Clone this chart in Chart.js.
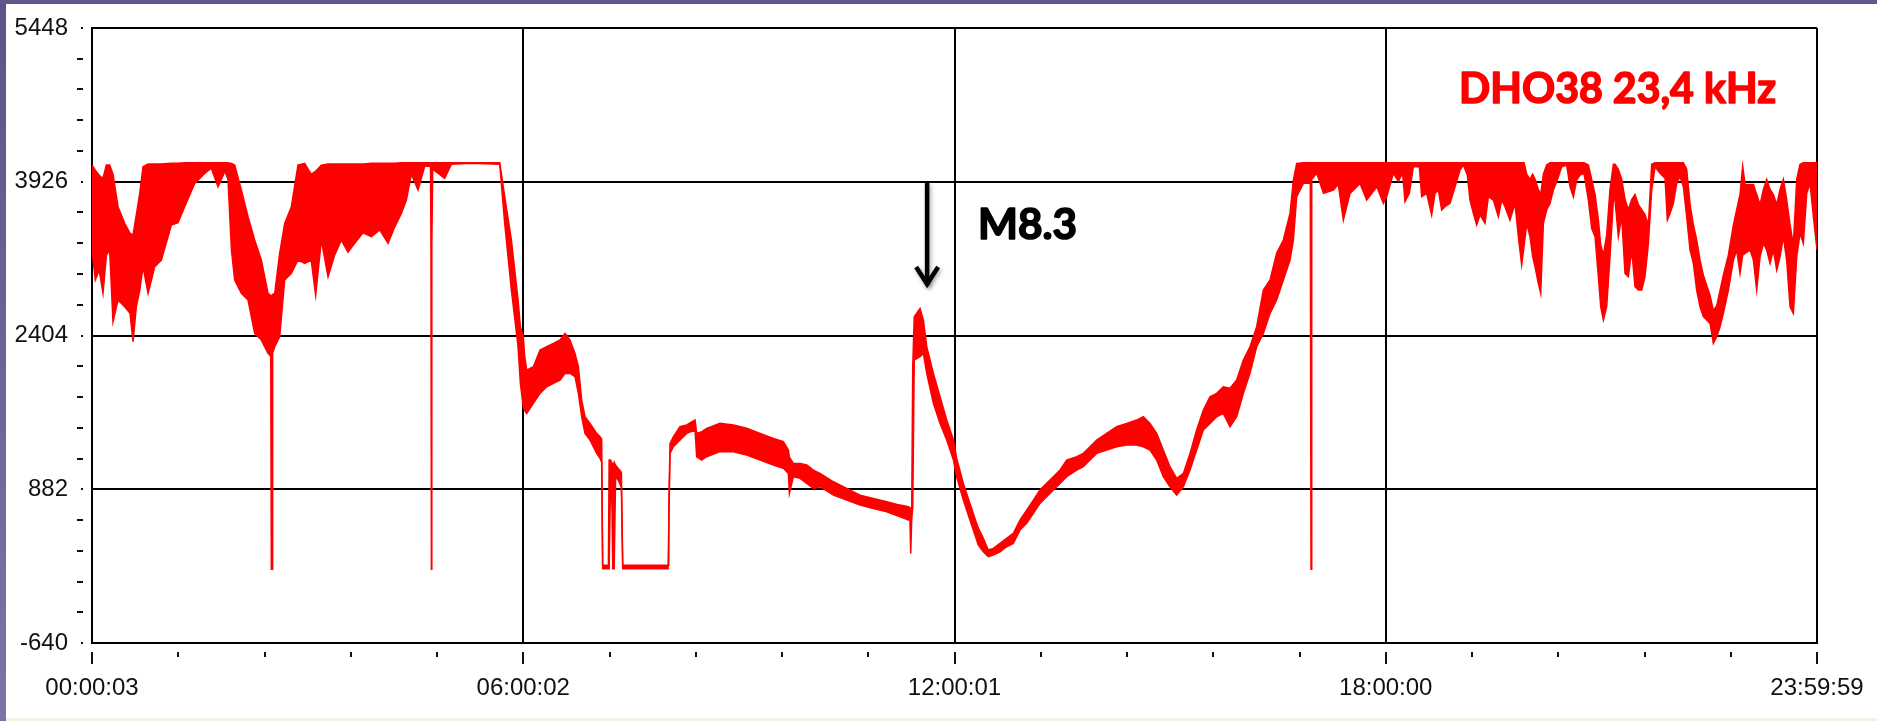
<!DOCTYPE html>
<html><head><meta charset="utf-8">
<script src="https://cdn.jsdelivr.net/npm/chart.js@4.4.1/dist/chart.umd.min.js"></script>
<style>html,body{margin:0;padding:0;background:#fff;overflow:hidden}canvas{display:block}</style>
</head><body>
<canvas id="c" width="1877" height="721"></canvas>
<script>
// time of day in hours
const hours = [
0.000,0.046,0.100,0.153,0.200,0.246,0.292,0.362,0.455,0.529,0.571,0.617,0.664,0.710,0.780,0.872,0.965,1.104,1.197,1.289,
1.429,1.568,1.660,1.753,1.850,1.892,1.940,1.985,2.078,2.171,2.263,2.356,2.449,2.487,2.495,2.505,2.513,2.542,2.611,2.681,
2.774,2.866,2.959,3.050,3.112,3.191,3.284,3.376,3.469,3.562,3.655,3.770,3.887,4.003,4.119,4.212,4.304,4.374,4.443,4.536,
4.629,4.710,4.716,4.722,4.728,4.740,4.907,5.000,5.278,5.673,5.742,5.835,5.928,5.960,6.000,6.020,6.048,6.141,6.233,6.326,
6.419,6.512,6.581,6.651,6.720,6.767,6.813,6.859,6.929,7.022,7.068,7.091,7.105,7.185,7.195,7.215,7.235,7.245,7.265,7.285,
7.330,7.365,7.384,8.015,8.025,8.042,8.089,8.181,8.274,8.390,8.413,8.483,8.552,8.738,8.923,9.109,9.295,9.480,9.619,9.689,
9.703,9.758,9.851,9.944,10.037,10.129,10.315,10.500,10.686,10.872,11.057,11.243,11.359,11.380,11.391,11.405,11.419,11.440,11.521,11.567,
11.614,11.706,11.799,11.892,11.985,12.030,12.123,12.215,12.308,12.330,12.401,12.470,12.540,12.633,12.725,12.818,12.911,13.004,13.097,13.189,
13.282,13.375,13.468,13.560,13.700,13.792,13.885,13.978,14.117,14.256,14.395,14.534,14.627,14.720,14.813,14.905,14.998,15.091,15.184,15.277,
15.369,15.462,15.555,15.648,15.740,15.833,15.926,16.019,16.111,16.204,16.297,16.390,16.482,16.575,16.668,16.715,16.761,16.854,16.950,16.960,
16.970,17.040,17.133,17.271,17.340,17.410,17.503,17.642,17.735,17.876,17.967,
18.013,18.106,18.175,18.235,18.268,18.328,18.384,18.467,18.500,18.569,18.639,18.685,18.732,18.778,18.824,18.894,18.964,19.033,19.080,19.135,
19.172,19.219,19.265,19.311,19.381,19.427,19.497,19.567,19.613,19.659,19.729,19.798,19.845,19.891,19.924,19.961,20.007,20.044,20.077,20.123,
20.156,20.193,20.239,20.285,20.332,20.378,20.448,20.517,20.564,20.610,20.656,20.703,20.759,20.819,20.865,20.912,20.958,20.991,21.028,21.074,
21.120,21.167,21.190,21.236,21.283,21.329,21.375,21.422,21.468,21.515,21.561,21.607,21.654,21.700,21.747,21.816,21.886,21.918,21.955,22.002,
22.048,22.094,22.141,22.187,22.234,22.280,22.326,22.373,22.419,22.465,22.512,22.558,22.605,22.651,22.697,22.767,22.837,22.883,22.929,22.966,
22.999,23.069,23.115,23.161,23.208,23.254,23.300,23.347,23.393,23.440,23.486,23.532,23.578,23.625,23.671,23.718,23.764,23.810,23.857,23.903,
23.950,24.000
];
// upper edge of the noisy signal band
const upperEnvelope = [
4092,4040,3990,3960,4092,4092,4000,3679,3514,3415,3400,3600,3811,4075,4101,4101,4101,4108,4108,4115,
4115,4115,4115,4115,4115,4115,4108,4091,3844,3580,3349,3151,2821,2800,2800,2800,2810,2821,3217,3514,
3679,4091,4108,4000,4030,4091,4101,4101,4101,4101,4101,4101,4108,4108,4108,4108,4115,4115,4115,4115,
4115,4115,4115,4115,4115,4115,4115,4115,4115,4115,3778,3349,2755,2491,2400,2200,2062,2095,2260,2293,
2326,2359,2425,2359,2227,2095,1765,1600,1534,1435,1402,1380,130,130,1171,1171,1140,1100,1150,1120,
1080,1050,130,130,700,1336,1402,1501,1518,1567,1435,1452,1485,1534,1518,1485,1435,1386,1353,1270,
1200,1138,1138,1122,1072,1039,956,890,824,791,758,725,709,700,690,690,2095,2590,2672,2557,
2293,2029,1798,1567,1369,1190,940,742,544,500,396,280,296,346,396,445,577,676,775,874,
940,1006,1072,1171,1204,1237,1303,1369,1435,1501,1534,1567,1600,1534,1435,1270,1105,990,1039,1237,
1468,1666,1798,1831,1897,1881,1963,2161,2293,2491,2854,2953,3217,3349,3613,3943,4108,4115,4115,4115,
4115,4115,4115,4115,4115,4115,4115,4115,4115,4115,4115,
4115,4115,4115,4115,4115,4115,4115,4115,4115,4115,4115,4115,4115,4115,4115,4115,4115,4115,4115,4115,
4115,4115,4115,4115,4115,4115,4115,4115,4115,4115,4115,4115,4115,4115,4115,4000,3950,4000,3950,3850,
3800,4000,4092,4115,4115,4115,4115,4115,4115,4115,4115,4115,4115,4092,3950,3800,3550,3300,3200,3400,
3850,4100,4100,4050,3950,3750,3650,3750,3800,3700,3650,3600,3500,4100,4115,4115,4115,4115,4115,4115,
4115,4115,4115,4050,3700,3500,3350,3150,3000,2900,2800,2650,2700,2850,3000,3200,3500,3650,3800,4080,
3900,3900,3900,3800,3700,3850,3950,3850,3800,3700,3850,3950,3750,3500,3300,3950,4100,4115,4115,4115,
4115,4115
];
// lower edge of the noisy signal band
const lowerEnvelope = [
3250,2953,3050,2821,3200,3250,2540,2755,2689,2623,2342,2689,2850,3085,2821,3085,3151,3497,3520,3679,
3910,4009,4060,3877,4030,3950,3250,2953,2821,2755,2425,2359,2227,2200,90,90,2230,2293,2392,2953,
3019,3151,3118,3150,2800,3349,2986,3200,3349,3230,3316,3420,3382,3450,3316,3480,3613,3745,4000,3844,
4080,4080,3280,90,3300,4050,3960,4100,4110,4100,3514,2854,2293,1930,1699,1660,1633,1732,1831,1897,
1930,1963,2029,2029,1996,1831,1600,1435,1369,1237,1188,1150,95,95,95,1000,700,95,95,1010,
960,900,95,95,95,1237,1303,1369,1435,1468,1204,1171,1204,1254,1254,1221,1171,1122,1089,1039,
840,1006,990,940,890,907,824,775,725,692,659,610,577,580,247,590,700,2161,2194,2227,
2029,1732,1534,1369,1171,1006,775,577,379,330,263,214,231,263,313,346,478,544,643,742,
808,874,940,1006,1072,1105,1171,1237,1270,1303,1320,1320,1303,1270,1171,1006,907,824,907,1072,
1270,1468,1534,1600,1633,1501,1600,1831,2029,2293,2425,2623,2755,2953,3151,3349,3778,3910,3910,90,
3950,4009,3811,3844,3900,3547,3811,3910,3745,3877,3712,
3778,4009,3930,4009,3729,3811,4075,4075,3778,3811,3597,3811,3844,3646,3679,3712,3877,4042,4092,3993,
3745,3613,3498,3597,3514,3778,3745,3580,3745,3679,3547,3712,3382,3102,3283,3514,3382,3184,3085,2920,
2821,3514,3646,3712,3844,3927,4075,4092,3877,3778,3943,3993,4009,3745,3465,3382,2986,2689,2557,2689,
3184,3745,3745,3382,3580,3019,2986,3250,2887,2854,2854,2986,3316,3844,4075,4009,3960,3547,3613,3712,
3910,3976,3877,3580,3250,3118,2854,2689,2590,2557,2524,2326,2392,2491,2623,2854,3151,3250,3019,3200,
3217,3250,3151,2854,3184,3316,3250,3118,3250,3052,3184,3382,3151,2689,2623,3184,3415,3316,3811,3910,
3580,3250
];
const xTickValues = [0, 6, 12, 18, 24];
const xTickLabels = ["00:00:03", "06:00:02", "12:00:01", "18:00:00", "23:59:59"];
const yTickValues = [-640, 882, 2404, 3926, 5448];
const yTickLabels = ["-640", "882", "2404", "3926", "5448"];
const stationLabel = "DHO38 23,4 kHz";
const eventLabel = "M8.3";

// annotation placement (data coordinates)
const annot = {
  station: {text: stationLabel, x0: 19.02, x1: 23.43, capTop: 5009, base: 4706, color: '#ff0000'},
  event: {text: eventLabel, x0: 12.327, x1: 13.704, capTop: 3656, base: 3359, color: '#000000'},
  arrow: {x: 11.619, yTop: 3914, yTip: 2884}
};
// target plot rectangle inside the 1877x721 page
const target = {left: 92, top: 28, right: 1817, bottom: 643};

const decor = {
  id: 'decor',
  beforeDraw(chart) {
    const ctx = chart.ctx, W = chart.width, H = chart.height;
    ctx.save();
    ctx.fillStyle = '#ffffff'; ctx.fillRect(0, 0, W, H);
    ctx.fillStyle = '#f3f1e4'; ctx.fillRect(0, H - 3, W, 3);
    const g = ctx.createLinearGradient(0, 0, 0, H);
    g.addColorStop(0, '#5a5488'); g.addColorStop(1, '#7b74a8');
    ctx.fillStyle = g; ctx.fillRect(0, 0, 6, H);
    ctx.fillStyle = '#5d578b'; ctx.fillRect(0, 0, W, 4);
    ctx.restore();
  },
  afterDraw(chart) {
    const ctx = chart.ctx, xs = chart.scales.x, ys = chart.scales.y, ca = chart.chartArea;
    ctx.save();
    ctx.fillStyle = '#111';
    for (let i = 0; i < yTickValues.length - 1; i++) {
      const a = yTickValues[i], b = yTickValues[i + 1];
      for (let k = 0; k < 5; k++) {
        const py = ys.getPixelForValue(a + (b - a) * k / 5);
        if (k === 0) ctx.fillRect(ca.left - 11, Math.round(py) - 1, 2, 2);
        else ctx.fillRect(ca.left - 15, Math.round(py) - 1, 6, 2);
      }
    }
    ctx.fillRect(ca.left - 11, Math.round(ys.getPixelForValue(yTickValues[yTickValues.length - 1])) - 1, 2, 2);
    for (let i = 0; i < xTickValues.length - 1; i++) {
      const a = xTickValues[i], b = xTickValues[i + 1];
      for (let k = 0; k < 5; k++) {
        const px = Math.round(xs.getPixelForValue(a + (b - a) * k / 5));
        if (k === 0) ctx.fillRect(px - 1, ca.bottom + 9, 2, 12);
        else ctx.fillRect(px - 1, ca.bottom + 9, 2, 5);
      }
    }
    const pxEnd = Math.round(xs.getPixelForValue(xTickValues[xTickValues.length - 1]));
    ctx.fillRect(pxEnd - 1, ca.bottom + 9, 2, 12);

    function fitText(o) {
      const xL = xs.getPixelForValue(o.x0), xR = xs.getPixelForValue(o.x1);
      const yT = ys.getPixelForValue(o.capTop), yB = ys.getPixelForValue(o.base);
      const size = (yB - yT) / 0.7165;
      ctx.font = 'bold ' + size.toFixed(1) + 'px Lato';
      const w = ctx.measureText(o.text).width;
      ctx.save();
      ctx.translate(xL, yB);
      ctx.scale((xR - xL) / w, 1);
      ctx.fillStyle = o.color;
      ctx.strokeStyle = o.color;
      ctx.lineWidth = 1.6;
      ctx.lineJoin = 'round';
      ctx.textBaseline = 'alphabetic';
      ctx.textAlign = 'left';
      ctx.fillText(o.text, 0, 0);
      ctx.strokeText(o.text, 0, 0);
      ctx.restore();
    }
    fitText(annot.station);
    fitText(annot.event);

    const ax = xs.getPixelForValue(annot.arrow.x);
    const aTop = ys.getPixelForValue(annot.arrow.yTop), aTip = ys.getPixelForValue(annot.arrow.yTip);
    ctx.save();
    ctx.strokeStyle = '#000';
    ctx.lineWidth = 4.5;
    ctx.lineCap = 'butt';
    ctx.lineJoin = 'miter';
    ctx.shadowColor = 'rgba(0,0,0,0.35)';
    ctx.shadowBlur = 4; ctx.shadowOffsetX = 1.5; ctx.shadowOffsetY = 2;
    ctx.beginPath();
    ctx.moveTo(ax, aTop); ctx.lineTo(ax, aTip - 2);
    ctx.stroke();
    ctx.beginPath();
    ctx.moveTo(ax - 11, aTip - 20); ctx.lineTo(ax, aTip - 3); ctx.lineTo(ax + 11, aTip - 20);
    ctx.stroke();
    ctx.restore();
    ctx.restore();
  }
};

const upperPts = hours.map((h, i) => ({x: h, y: upperEnvelope[i]}));
const lowerPts = hours.map((h, i) => ({x: h, y: lowerEnvelope[i]}));

const chart = new Chart(document.getElementById('c'), {
  type: 'line',
  data: {
    datasets: [
      {label: 'max', data: upperPts, borderColor: '#ff0000', borderWidth: 1.5, pointRadius: 0, fill: false, tension: 0},
      {label: 'min', data: lowerPts, borderColor: '#ff0000', backgroundColor: '#ff0000', borderWidth: 1.5, pointRadius: 0, fill: '-1', tension: 0}
    ]
  },
  options: {
    responsive: false, animation: false, devicePixelRatio: 1,
    layout: {padding: {left: 0, top: 28, right: 60, bottom: 0}},
    plugins: {legend: {display: false}, tooltip: {enabled: false}},
    scales: {
      x: {
        type: 'linear', min: 0, max: 24, z: 1,
        afterBuildTicks: s => { s.ticks = xTickValues.map(v => ({value: v})); },
        afterFit: s => { s.height = 78; s.paddingLeft = 0; s.paddingRight = 0; },
        ticks: {autoSkip: false, maxRotation: 0, padding: 31, color: '#111',
          font: {family: 'Liberation Sans', size: 24}, callback: (v, i) => xTickLabels[i]},
        grid: {color: '#000', lineWidth: 2, drawTicks: false},
        border: {color: '#000', width: 2}
      },
      y: {
        type: 'linear', min: -640, max: 5448, z: 1,
        afterBuildTicks: s => { s.ticks = yTickValues.map(v => ({value: v})); },
        afterFit: s => { s.width = 92; s.paddingTop = 0; s.paddingBottom = 0; },
        ticks: {autoSkip: false, padding: 24, color: '#111',
          font: {family: 'Liberation Sans', size: 24}, callback: (v, i) => yTickLabels[i]},
        grid: {color: '#000', lineWidth: 2, drawTicks: false},
        border: {color: '#000', width: 2}
      }
    }
  },
  plugins: [decor]
});
for (let pass = 0; pass < 3; pass++) {
  const ca = chart.chartArea, p = chart.options.layout.padding;
  const dTop = target.top - ca.top, dRight = ca.right - target.right;
  if (Math.abs(dTop) < 0.5 && Math.abs(dRight) < 0.5) break;
  p.top = Math.max(0, p.top + dTop);
  p.right = Math.max(0, p.right + dRight);
  chart.update();
}
</script>
</body></html>
